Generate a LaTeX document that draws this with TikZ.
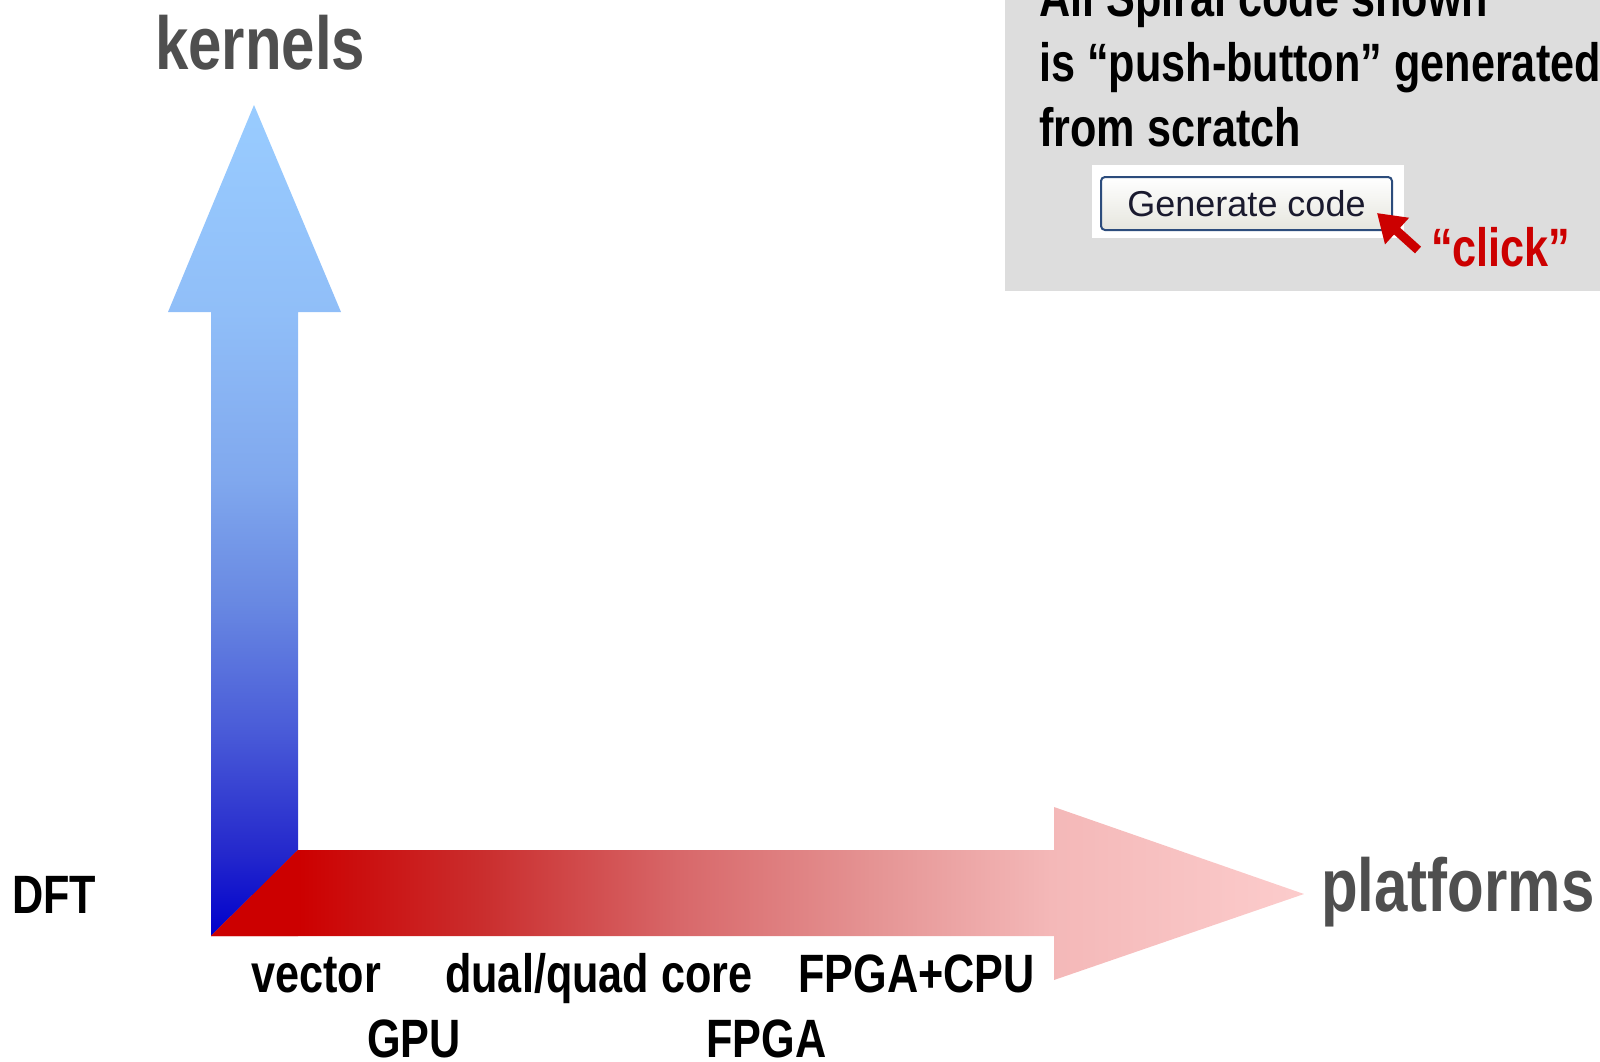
\documentclass[tikz,border=0pt]{standalone}
\usepackage{fontspec}
\setmainfont{Liberation Sans}
\newfontfamily\narrowfont[FakeStretch=0.8]{Liberation Sans}
\usetikzlibrary{arrows.meta}
\definecolor{axisgray}{HTML}{4F4F4F}
\definecolor{boxgray}{HTML}{DDDDDD}
\definecolor{clickred}{HTML}{CC0000}
\definecolor{btnborder}{HTML}{2C4C7C}
\definecolor{btntext}{HTML}{1A1A2E}
\definecolor{btnbottom}{HTML}{E6E6DE}
% kernels arrow stops (bottom to top)
\definecolor{kA}{HTML}{0000CC}
\definecolor{kB}{HTML}{2428CC}
\definecolor{kC}{HTML}{4A5CD8}
\definecolor{kD}{HTML}{6888E2}
\definecolor{kE}{HTML}{80A8EE}
\definecolor{kF}{HTML}{90BEF8}
\definecolor{kG}{HTML}{99CCFF}
% platforms arrow stops (left to right)
\definecolor{pA}{HTML}{CC0000}
\definecolor{pB}{HTML}{CA2E2E}
\definecolor{pC}{HTML}{D8686A}
\definecolor{pD}{HTML}{E59494}
\definecolor{pE}{HTML}{F4B8B8}
\definecolor{pF}{HTML}{FCCCCC}
\pgfdeclareverticalshading{kernelshade}{100bp}{color(0bp)=(kA); color(25bp)=(kA); color(30bp)=(kB); color(37.5bp)=(kC); color(45bp)=(kD); color(52.5bp)=(kE); color(62.5bp)=(kF); color(75bp)=(kG); color(100bp)=(kG)}
\pgfdeclarehorizontalshading{platformshade}{100bp}{color(0bp)=(pA); color(29bp)=(pA); color(37.5bp)=(pB); color(46.5bp)=(pC); color(55.4bp)=(pD); color(63.4bp)=(pE); color(75bp)=(pF); color(100bp)=(pF)}
\begin{document}
\begin{tikzpicture}[x=1pt,y=-1pt,
  axislabel/.style={font=\narrowfont\bfseries\fontsize{75}{80}\selectfont, text=axisgray, inner sep=0pt, anchor=base west},
  itemlabel/.style={font=\narrowfont\bfseries\fontsize{54}{64}\selectfont, text=black, inner sep=0pt, anchor=base west},
  buttonbox/.style={draw=btnborder, line width=2pt, rounded corners=4pt, top color=white, bottom color=btnbottom,
    minimum width=291pt, minimum height=53pt, inner sep=0pt, text=btntext, font=\fontsize{36}{40}\selectfont},
  clickarrow/.style={draw=clickred, line width=9pt, -{Triangle[length=27pt,width=34pt]}},
]
\useasboundingbox (0,0) rectangle (1600,1061);
\clip (0,0) rectangle (1600,1061);

% note box
\fill[boxgray] (1005,-10) rectangle (1610,291);
\node[itemlabel] (line1) at (1039,16) {All Spiral code shown};
\node[itemlabel] (line2) at (1039,81) {is “push-button” generated};
\node[itemlabel] (line3) at (1039,146) {from scratch};
\fill[white] (1092,165) rectangle (1404,238);
\node[buttonbox] (btn) at (1246.5,203.5) {Generate code};
\coordinate (clicktail) at (1418,250);
\coordinate (clicktip) at (1377,213);
\draw[clickarrow] (clicktail) -- (clicktip);
\node[itemlabel, text=clickred] (click) at (1431,266) {“click”};

% kernels axis (blue arrow)
\shade[shading=kernelshade]
  (211,936) -- (211,312) -- (168,312) -- (254,105) -- (341,312) -- (298,312) -- (298,850) -- cycle;
% platforms axis (red arrow)
\shade[shading=platformshade]
  (211,936) -- (298,850) -- (1054,850) -- (1054,807) -- (1304,894) -- (1054,980) -- (1054,936) -- cycle;
\fill[clickred] (211,936) -- (298,850) -- (298,936) -- cycle;

% axis labels
\node[axislabel] (kernels) at (155,69) {kernels};
\node[axislabel] (platforms) at (1321,911) {platforms};

% item labels
\node[itemlabel] (dft) at (12,913) {DFT};
\node[itemlabel] (vector) at (251,992) {vector};
\node[itemlabel] (dualquad) at (445,992) {dual/quad core};
\node[itemlabel] (fpgacpu) at (798,992) {FPGA+CPU};
\node[itemlabel] (gpu) at (367,1057) {GPU};
\node[itemlabel] (fpga) at (706,1057) {FPGA};
\end{tikzpicture}
\end{document}
